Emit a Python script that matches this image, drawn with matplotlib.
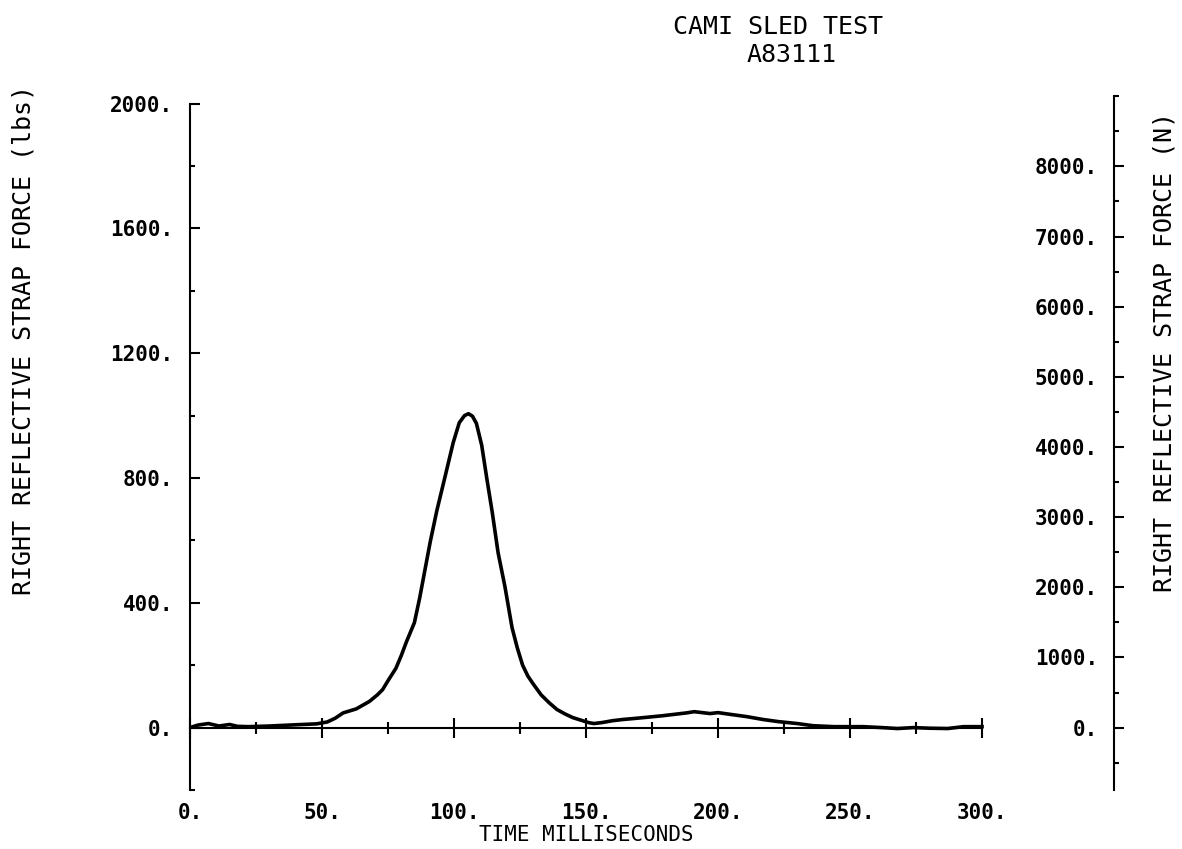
import matplotlib
matplotlib.use("Agg")
import matplotlib.pyplot as plt
from matplotlib.ticker import FuncFormatter

# strap force trace (time in ms, force in lbs)
time_ms = [0, 3, 7, 11, 15, 18, 22, 30, 40, 48, 52, 55, 58, 63, 68, 71, 73,
           75, 78, 80, 82, 85, 87, 89, 91, 93.5, 96.5, 99.7, 102, 104, 105.5,
           107, 108.5, 110.5, 112.5, 114.5, 116.7, 119.3, 122, 124, 126, 128,
           130, 133, 136, 139, 142, 145, 148, 151, 153, 156, 160, 164, 168,
           173, 179, 185, 188, 191, 194, 197, 200, 205, 211, 217, 223, 230,
           236, 244, 255, 262, 268, 274, 280, 287, 293, 300]
force_lbs = [0, 8, 13, 5, 10, 4, 3, 5, 9, 12, 18, 30, 47, 60, 84, 105, 122,
             150, 190, 230, 275, 336, 415, 505, 595, 695, 800, 913, 977, 1000,
             1006, 998, 975, 905, 795, 690, 561, 452, 320, 255, 200, 165,
             140, 105, 80, 58, 44, 32, 24, 16, 13, 16, 22, 26, 29,
             33, 38, 44, 47, 51, 48, 45, 48, 42, 35, 26, 19, 13,
             6, 3, 3, 0, -3, 0, -2, -3, 3, 3]

x_ticks = [0, 50, 100, 150, 200, 250, 300]
lbs_ticks = [0, 400, 800, 1200, 1600, 2000]
newton_ticks = [0, 1000, 2000, 3000, 4000, 5000, 6000, 7000, 8000]

LBF_TO_N = 4.448
mono = "DejaVu Sans Mono"


def dot_fmt(v, pos=None):
    return "%d." % round(v)


fig = plt.figure(figsize=(11.82, 8.49), dpi=100)
ax = fig.add_axes([0.1607, 0.0695, 0.7818, 0.8171])

ax.plot(time_ms, force_lbs, color="black", lw=2.6, solid_joinstyle="round")

ax.set_xlim(0, 350)
ax.set_ylim(-200, 9000 / LBF_TO_N)

for s in ["top", "right"]:
    ax.spines[s].set_visible(False)
ax.spines["bottom"].set_position(("data", 0))
ax.spines["bottom"].set_bounds(0, 300)
ax.spines["left"].set_bounds(-200, 2000)
for s in ["bottom", "left"]:
    ax.spines[s].set_linewidth(1.5)

ax.set_xticks(x_ticks)
ax.set_xticks(list(range(0, 301, 25)), minor=True)
ax.xaxis.set_major_formatter(FuncFormatter(dot_fmt))
ax.tick_params(axis="x", which="major", direction="inout", length=15, width=1.5, pad=47)
ax.tick_params(axis="x", which="minor", direction="inout", length=8.5, width=1.5)

ax.set_yticks(lbs_ticks)
ax.set_yticks(list(range(-200, 2001, 200)), minor=True)
ax.yaxis.set_major_formatter(FuncFormatter(dot_fmt))
ax.tick_params(axis="y", which="major", direction="in", length=7, width=1.5, pad=12)
ax.tick_params(axis="y", which="minor", direction="in", length=3.5, width=1.5)

for lab in ax.get_xticklabels() + ax.get_yticklabels():
    lab.set_fontfamily(mono)
    lab.set_fontsize(15)
    lab.set_fontweight("bold")

ax.set_xlabel("TIME MILLISECONDS", fontfamily=mono, fontsize=15)
ax.xaxis.set_label_coords(150 / 350, -0.05)
ax.set_ylabel("RIGHT REFLECTIVE STRAP FORCE (lbs)", fontfamily=mono, fontsize=18)
ax.yaxis.set_label_coords(-0.167, 0.649)

# second axis in newtons, drawn to the right of the time axis
ax2 = ax.twinx()
ax2.set_ylim(-200 * LBF_TO_N, 9000)
for s in ["top", "right", "bottom"]:
    ax2.spines[s].set_visible(False)
ax2.spines["left"].set_visible(True)
ax2.spines["left"].set_position(("axes", 1.0))
ax2.spines["left"].set_bounds(-200 * LBF_TO_N, 9000)
ax2.spines["left"].set_linewidth(1.5)
ax2.yaxis.set_ticks_position("left")
ax2.set_yticks(newton_ticks)
ax2.set_yticks(list(range(-500, 9001, 500)), minor=True)
ax2.yaxis.set_major_formatter(FuncFormatter(dot_fmt))
ax2.tick_params(axis="y", which="major", direction="in", length=7, width=1.5, pad=11.5,
                left=True, right=False, labelleft=True, labelright=False)
ax2.tick_params(axis="y", which="minor", direction="in", length=3.5, width=1.5,
                left=True, right=False)
for lab in ax2.get_yticklabels():
    lab.set_fontfamily(mono)
    lab.set_fontsize(15)
    lab.set_fontweight("bold")
ax2.set_ylabel("RIGHT REFLECTIVE STRAP FORCE (N)", fontfamily=mono, fontsize=18)
ax2.yaxis.set_label_position("right")
ax2.yaxis.set_label_coords(1.0415, 0.631)

fig.text(778 / 1182, 1 - 27 / 849, "CAMI SLED TEST", fontfamily=mono, fontsize=18,
         ha="center", va="center")
fig.text(792 / 1182, 1 - 55 / 849, "A83111", fontfamily=mono, fontsize=18,
         ha="center", va="center")

fig.savefig("out.png", dpi=100)
